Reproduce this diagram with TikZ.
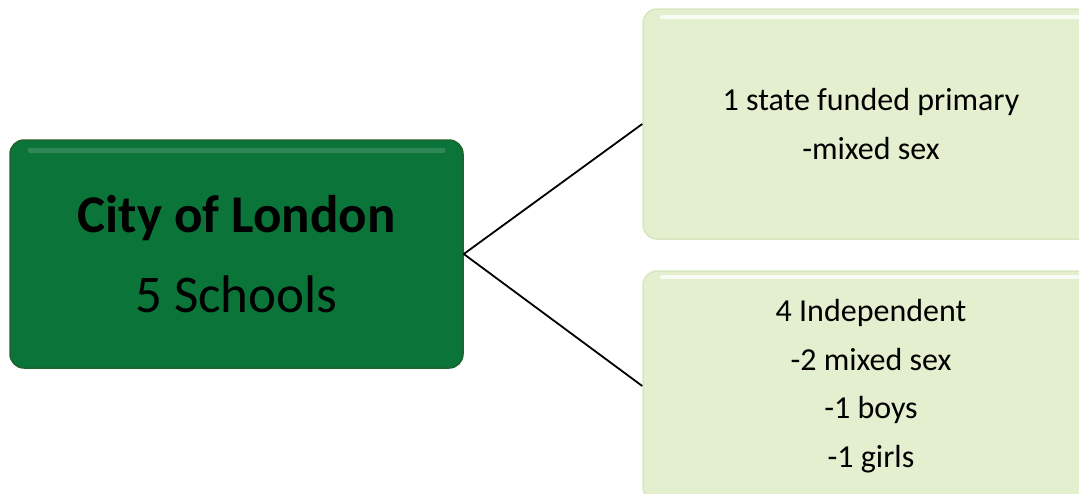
\documentclass[tikz,border=0pt]{standalone}
\usepackage{fontspec}
\setmainfont{Carlito}
\definecolor{citygreen}{RGB}{11,116,56}
\definecolor{cityedge}{RGB}{30,100,45}
\definecolor{palegreen}{RGB}{227,239,206}
\definecolor{paleedge}{RGB}{214,230,190}
\tikzset{
  citybox/.style={draw=cityedge, line width=1.5pt, fill=citygreen, rounded corners=14pt,
    minimum width=453pt, minimum height=228pt, align=center, inner sep=0pt,
    font=\fontsize{53}{80}\selectfont},
  schoolbox/.style={draw=paleedge, line width=1.5pt, fill=palegreen, rounded corners=14pt,
    minimum width=456pt, minimum height=230pt, align=center, inner sep=0pt,
    font=\fontsize{32}{48.5}\selectfont},
  link/.style={line width=1.8pt, black}
}
\begin{document}
\begin{tikzpicture}[x=1pt, y=-1pt]
  \useasboundingbox (0,0) rectangle (1079,493);
  \clip (0,0) rectangle (1079,493);
  \node[citybox] (city) at (236.5,254) {\textbf{City of London}\\5 Schools};
  \node[schoolbox] (state) at (871,124) {1 state funded primary\\-mixed sex};
  \node[schoolbox] (indep) at (871,386) {4 Independent\\-2 mixed sex\\-1 boys\\-1 girls};
  % glossy top edge
  \draw[white, opacity=.15, line width=5pt, line cap=round] (30,150) -- (443,150);
  \draw[white, opacity=.8, line width=4pt, line cap=round] (662,17) -- (1079,17);
  \draw[white, opacity=.8, line width=4pt, line cap=round] (662,277) -- (1079,277);
  \draw[link] (city.east) -- (state.west);
  \draw[link] (city.east) -- (indep.west);
\end{tikzpicture}
\end{document}
